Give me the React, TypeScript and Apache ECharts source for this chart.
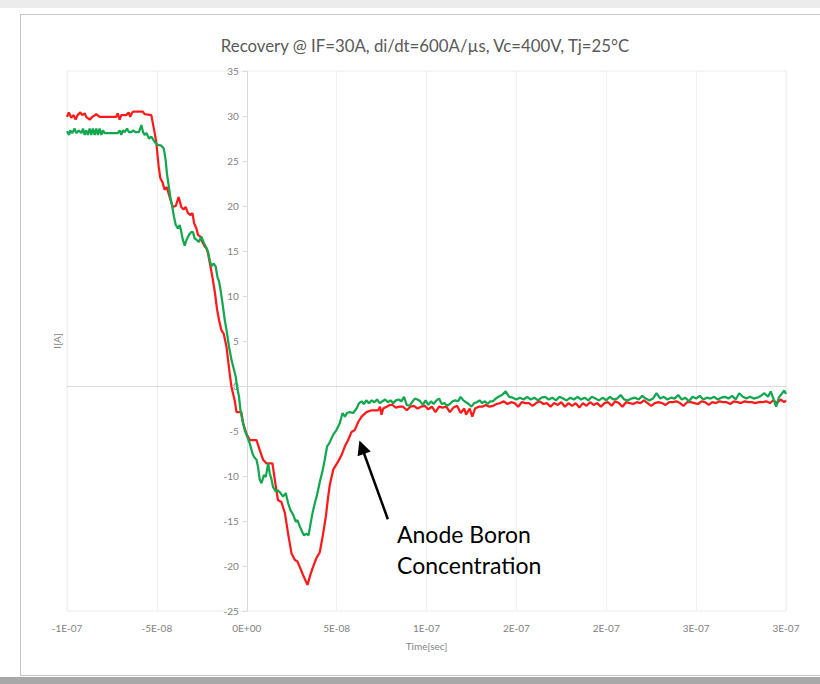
import React, { useEffect, useRef } from "react";
import * as echarts from "echarts";

const titleText = "Recovery @ IF=30A, di/dt=600A/\u00b5s, Vc=400V, Tj=25\u00b0C";
const xName = "Time[sec]";
const yName = "I[A]";
const xMin = -100; // ns
const xMax = 300;
const xStep = 50;
const xTickLabels = ["-1E-07", "-5E-08", "0E+00", "5E-08", "1E-07", "2E-07", "2E-07", "3E-07", "3E-07"];
const yMin = -25;
const yMax = 35;
const yStep = 5;

// time in ns, current in A
const redPoints: [number, number][] = [
  [-100, 29.9], [-99, 30.4], [-97.6, 29.8], [-96.3, 30.1], [-95.2, 29.6], [-94.1, 30.1], [-92.6, 30.4], [-91.5, 30.1],
  [-90.2, 30.3], [-89.3, 29.9], [-87.4, 29.6], [-85.9, 29.9], [-83.7, 30.2], [-81.9, 29.9], [-72.6, 29.9], [-71.8, 30.3],
  [-70.7, 29.6], [-69.8, 30.1], [-67, 30.1], [-65.7, 30.4], [-64.8, 29.9], [-63.7, 30.4], [-62.9, 30.5], [-57.9, 30.5],
  [-56.8, 30.2], [-53.1, 30.1],
  [-51.2, 28.1], [-50.3, 27], [-49, 24.4], [-48.1, 23.1], [-46.8, 22.6], [-45.7, 21.8], [-44.5, 22.1], [-42.9, 21],
  [-41.2, 19.9], [-39.5, 20], [-37.9, 21], [-36.4, 19.9], [-35.1, 19.6], [-34, 19.9], [-32.7, 19.2], [-31.3, 19],
  [-30.2, 19.2], [-29.3, 18.1], [-28, 17.5], [-27.1, 16.8], [-25.8, 16.6], [-24.7, 16], [-23.4, 15.5], [-22.4, 15.3],
  [-21.5, 14.7], [-20.2, 13.3], [-19.1, 12.1], [-17.8, 10.5], [-16.5, 8.5], [-15.4, 7.3], [-14.1, 6.2], [-12.8, 5.8],
  [-11.3, 4.4], [-10.4, 2.9], [-9.5, 1.4], [-8.5, -0.1], [-6.7, -1.6], [-5.7, -2.9], [-3.9, -2.9], [-3, -2.9],
  [-2.1, -4.1], [-0.2, -5.3], [1.7, -6], [3.5, -6], [5.4, -6], [7.2, -7.1], [9.1, -8.2], [11, -8.6], [12.8, -8.6],
  [14.3, -8.6], [15.6, -10.4], [17.4, -12.7], [19.3, -12.9], [21.2, -14.1], [23, -16.4], [24.9, -18.6], [26.7, -19.3],
  [28.2, -19.5], [29.5, -20.1], [31.3, -21], [33.8, -22.1], [35.5, -20.9], [36.9, -20.1], [38.8, -19.1], [40.6, -18.5],
  [42.5, -16.4], [44, -14.5], [45.3, -12.3], [46.2, -11], [48.1, -9.3], [50.8, -8.4], [52.7, -7.7], [54.6, -6.7],
  [56.4, -6], [58.3, -5.1], [60.1, -4.9], [62, -4], [63.9, -3.4], [66.6, -2.9], [69.4, -2.7], [73.1, -2.7], [74.1, -2.3],
  [75, -3.2], [75.9, -2.5], [77.8, -2.3], [79.6, -2.1],
  [81, -2.1], [83, -2.4], [85, -2.3], [87, -2.3], [89, -2.7], [91, -2.3], [93, -2.2], [95, -2.5], [97, -2.3], [99, -2.2],
  [101, -2.6], [103, -2.3], [105, -2.9], [107, -2.3], [109, -2.4], [111, -2.3], [113, -2.9], [115, -2.4], [117, -2.2],
  [119, -3.0], [121, -2.5], [122, -3.2], [124, -2.5], [125.5, -3.4], [127, -2.5], [129, -2.3], [131, -2.3], [133, -2.1],
  [135, -2.3], [137, -2.2], [139, -2.0], [141, -1.9], [143, -1.7], [145, -2.0], [147, -1.8], [149, -1.9], [151, -2.3],
  [153, -1.8], [155, -1.9], [157, -1.9], [159, -2.2], [161, -1.9], [163, -1.7], [165, -2.0], [167, -1.9], [169, -2.3],
  [171, -1.9], [173, -2.1], [175, -1.8], [177, -2.3], [179, -1.9], [181, -2.2], [183, -1.9], [185, -2.4], [187, -1.9],
  [189, -2.2], [191, -1.8], [193, -2.1], [195, -1.9], [197, -2.3], [199, -1.9], [201, -1.8], [203, -2.2], [205, -1.7],
  [207, -1.9], [209, -2.3], [211, -1.8], [213, -1.9], [215, -2.0], [217, -1.8], [219, -1.9], [221, -1.6], [223, -1.9],
  [225, -2.2], [227, -1.9], [229, -1.8], [231, -1.9], [233, -2.1], [235, -1.8], [237, -1.8], [239, -1.7], [241, -1.9],
  [243, -2.2], [245, -1.8], [247, -1.8], [249, -1.9], [251, -2.0], [253, -1.7], [255, -1.8], [257, -2.1], [259, -1.8],
  [261, -1.9], [263, -1.7], [265, -1.8], [267, -1.8], [269, -2.0], [271, -1.7], [273, -1.8], [275, -1.9], [277, -1.7],
  [279, -1.8], [281, -1.8], [283, -1.9], [285, -1.8], [287, -1.8], [289, -1.7], [291, -1.9], [293, -1.6], [295, -1.9],
  [297, -1.5], [299, -1.8], [300, -1.6],
];

const greenPoints: [number, number][] = [
  [-100, 28.3], [-98.9, 27.9], [-98.2, 28.4], [-97, 28.1], [-95.8, 28.6], [-94.8, 28.1], [-93.4, 28.4], [-92, 28.1],
  [-91.1, 28.6], [-90.2, 27.9], [-89.3, 28.4], [-88.4, 27.9], [-87.4, 28.6], [-86.5, 27.9], [-85.6, 28.6], [-84.6, 27.9],
  [-83.7, 28.6], [-82.8, 27.9], [-81.9, 28.6], [-80.9, 27.9], [-80, 28.4], [-79.1, 28.1], [-77.2, 28.1], [-71.7, 28.1],
  [-70.7, 28.4], [-69.8, 27.9], [-68.9, 28.4], [-67.9, 28.2], [-66.6, 28.6], [-65.5, 28.2], [-64.2, 28.2], [-63.3, 28.4],
  [-61.8, 28.2], [-60, 28.2], [-58.6, 29], [-57.7, 28.2], [-56.8, 27.9], [-55.8, 28.1], [-54.4, 27.5], [-53.1, 27.7],
  [-51.8, 27.3], [-50.7, 27], [-49.4, 26.8], [-47.5, 26.7], [-46.2, 26.4], [-45.1, 25.1], [-44.4, 23.6], [-43.3, 22.1],
  [-42.5, 21], [-41.4, 19.9], [-40.5, 18.8], [-39.5, 17.9], [-38.3, 17.5], [-37.3, 17.9], [-36.4, 17.1], [-35.5, 16.2],
  [-34.5, 15.6], [-33.6, 16.2], [-32.1, 16.8], [-30.8, 17.1], [-29.9, 17.1], [-29, 16.4], [-27.7, 16.2], [-26.6, 16],
  [-25.2, 16.6], [-23.9, 15.9], [-22.8, 15.5], [-21.5, 14.9], [-20.6, 14], [-19.7, 13.3], [-18.4, 13.6], [-17.3, 13.3],
  [-16.3, 12.1], [-15.4, 11.6], [-14.6, 10.7], [-13.5, 9.2], [-12.2, 7.3], [-11, 5.9], [-9.9, 4.4], [-8.5, 2.9],
  [-7.1, 1.8], [-6.1, 1], [-5.4, -0.1], [-4.3, -1.2], [-3.5, -2.7], [-2.4, -3.8], [-1.1, -4.9], [0.2, -5.6], [1.7, -6.4],
  [3.2, -7.5], [4.1, -7.9], [5.4, -8.2], [6.3, -9], [7.2, -10.4], [8.2, -10.8], [9.5, -9.9], [10.6, -10.1], [11.9, -8.6],
  [12.8, -9.7], [13.8, -10.4], [14.6, -11.2], [16.1, -11.7], [17.4, -11.6], [18.8, -11.9], [20.2, -12.3], [21.7, -11.9],
  [23, -13], [24.3, -13.8], [25.8, -14.3], [27.3, -15.1], [28.2, -14.9], [29.5, -15.6], [30.8, -16.2], [31.9, -16.6],
  [33.2, -16.4], [34.4, -16.6], [35.5, -15.3], [36.6, -14.1], [37.9, -13], [39.1, -12.1], [40.6, -10.7], [42.2, -9.4],
  [43.4, -8.2], [44.7, -6.7], [45.8, -6.4], [48.1, -5.4], [49.9, -4.9], [51.8, -4.1], [53.3, -3], [54.6, -3.4],
  [55.8, -3], [57.4, -2.9], [59.2, -3], [61.1, -2.5], [62.5, -1.9], [63.9, -1.7], [65.1, -2.0],
  [66.5, -1.6], [68, -1.9], [69.5, -1.6], [71, -1.8], [72.5, -1.5], [74, -1.9], [75.5, -1.7], [77, -1.5], [78.5, -1.8],
  [80, -1.6], [81.5, -1.9], [83, -1.6], [84.5, -1.5], [86, -1.7], [87.5, -1.2], [89, -2.1], [90.5, -2.2], [92, -1.8],
  [93.5, -1.4], [95, -1.5], [96.5, -1.7], [98, -2.1], [99.5, -1.6], [101, -2.1], [102.5, -1.7], [104, -2.0], [105.5, -1.6],
  [107, -1.4], [108.5, -2.0], [110, -1.9], [111.5, -2.2], [113, -2.0], [114.5, -1.7], [116, -1.6], [117.5, -1.7],
  [119, -1.2], [120.5, -1.6], [122, -1.8], [123.5, -2.0], [125, -2.3], [126.5, -1.9], [128, -1.8], [129.5, -1.6],
  [131, -1.9], [132.5, -1.7], [134, -2.0], [135.5, -1.7], [137, -1.7], [138.5, -1.4], [140, -1.2], [142, -1.0],
  [144, -0.6], [146, -1.2], [148, -1.3], [150, -1.5], [152, -1.3], [154, -1.5], [156, -1.2], [158, -1.5], [160, -1.3],
  [162, -1.6], [164, -1.3], [166, -1.2], [168, -1.5], [170, -1.3], [172, -1.6], [174, -1.2], [176, -1.4], [178, -1.6],
  [180, -1.3], [182, -1.5], [184, -1.2], [186, -1.5], [188, -1.3], [190, -1.6], [192, -1.2], [194, -1.4], [196, -1.6],
  [198, -1.3], [200, -1.6], [202, -1.2], [204, -1.5], [206, -1.4], [208, -1.0], [210, -1.5], [212, -1.6], [214, -1.4],
  [216, -1.3], [218, -1.5], [220, -1.1], [222, -1.4], [224, -1.6], [226, -1.4], [228, -0.8], [230, -1.4], [232, -1.2],
  [234, -1.5], [236, -1.3], [238, -1.4], [240, -1.0], [242, -1.5], [244, -1.3], [246, -1.7], [248, -1.2], [250, -1.4],
  [252, -1.1], [254, -1.5], [256, -1.3], [258, -1.4], [260, -1.2], [262, -1.5], [264, -1.3], [266, -1.2], [268, -1.4],
  [270, -1.1], [272, -1.5], [274, -0.8], [276, -1.2], [278, -1.4], [280, -1.2], [282, -1.4], [284, -1.3], [286, -1.1],
  [288, -0.8], [290, -1.2], [291.5, -0.6], [293, -1.4], [294.5, -2.3], [296, -1.3], [297.5, -0.9], [299, -0.5], [300, -0.9],
];

// annotation arrow: from tail to head, in data units (ns, A)
const arrowTail: [number, number] = [78.5, -14.8];
const arrowHead: [number, number] = [64, -6.8];
const annotationLines = ["Anode Boron", "Concentration"];

export default function App() {
  const ref = useRef<HTMLDivElement>(null);
  useEffect(() => {
    if (!ref.current) return;
    const chart = echarts.init(ref.current, null, { renderer: "svg" });
    const labelColor = "#7f7f7f";
    const gridLeft = 67;
    const gridRight = 34;
    const plotWidth = 820 - gridLeft - gridRight;
    // the vertical axis crosses the time axis at t = 0
    const yAxisOffset = -((0 - xMin) / (xMax - xMin)) * plotWidth;
    chart.setOption({
      animation: false,
      backgroundColor: "#ffffff",
      title: {
        text: titleText,
        left: 420,
        top: 32,
        textAlign: "center",
        textStyle: { fontFamily: "Lato", fontSize: 16.8, fontWeight: "normal", color: "#595959" },
      },
      grid: {
        left: gridLeft,
        right: gridRight,
        top: 71,
        bottom: 73,
        show: true,
        borderColor: "#ededed",
        borderWidth: 1,
        containLabel: false,
        outerBoundsMode: "none",
      },
      xAxis: {
        type: "value",
        min: xMin,
        max: xMax,
        interval: xStep,
        position: "bottom",
        axisLine: { show: false, onZero: false },
        axisTick: { show: false },
        splitLine: { show: true, lineStyle: { color: "#f0f0f0", width: 1 } },
        axisLabel: {
          color: labelColor,
          fontFamily: "Lato",
          fontSize: 10,
          margin: 12,
          formatter: (v: number) => xTickLabels[Math.round((v - xMin) / xStep)] ?? "",
        },
        name: xName,
        nameLocation: "middle",
        nameGap: 30,
        nameTextStyle: { color: labelColor, fontFamily: "Lato", fontSize: 10 },
      },
      yAxis: {
        type: "value",
        min: yMin,
        max: yMax,
        interval: yStep,
        position: "left",
        offset: yAxisOffset,
        axisLine: { show: true, onZero: false, lineStyle: { color: "#d9d9d9", width: 1 } },
        axisTick: { show: true, length: 4, lineStyle: { color: "#d9d9d9" } },
        splitLine: { show: false },
        axisLabel: { color: labelColor, fontFamily: "Lato", fontSize: 10, margin: 8 },
        name: yName,
        nameLocation: "middle",
        nameGap: 185,
        nameRotate: 90,
        nameTextStyle: { color: labelColor, fontFamily: "Lato", fontSize: 10 },
      },
      series: [
        {
          name: "red",
          type: "line",
          data: redPoints,
          showSymbol: false,
          symbol: "none",
          lineStyle: { color: "#ff1a1a", width: 2.25 },
          itemStyle: { color: "#ff1a1a" },
          z: 2,
          markLine: {
            silent: true,
            symbol: "none",
            label: { show: false },
            lineStyle: { color: "#d9d9d9", width: 1, type: "solid" },
            data: [{ yAxis: 0 }],
            z: 1,
          },
        },
        {
          name: "green",
          type: "line",
          data: greenPoints,
          showSymbol: false,
          symbol: "none",
          lineStyle: { color: "#13a850", width: 2.25 },
          itemStyle: { color: "#13a850" },
          z: 3,
          markLine: {
            silent: true,
            symbol: ["none", "triangle"],
            symbolSize: 14,
            label: { show: false },
            lineStyle: { color: "#000000", width: 2.5, type: "solid" },
            data: [[{ coord: arrowTail }, { coord: arrowHead }]],
          },
        },
      ],
      graphic: [
        {
          type: "rect",
          z: -10,
          silent: true,
          shape: { x: 0, y: 0, width: 820, height: 8 },
          style: { fill: "#ececec" },
        },
        {
          type: "rect",
          z: -5,
          silent: true,
          shape: { x: 20.5, y: 14.5, width: 830, height: 661 },
          style: { fill: "#ffffff", stroke: "#c4c4c4", lineWidth: 1 },
        },
        {
          type: "rect",
          z: -10,
          silent: true,
          shape: { x: 0, y: 677, width: 820, height: 7 },
          style: { fill: "#a8a8a8" },
        },
        {
          type: "text",
          z: 10,
          style: {
            text: annotationLines.join("\n"),
            x: 397,
            y: 518,
            fontFamily: "Lato",
            fontSize: 23,
            lineHeight: 31,
            fill: "#000000",
          },
        },
      ],
    });
    return () => chart.dispose();
  }, []);
  return (
    <div
      ref={ref}
      style={{ position: "fixed", left: 0, top: 0, width: 820, height: 684, background: "#ffffff" }}
    />
  );
}
